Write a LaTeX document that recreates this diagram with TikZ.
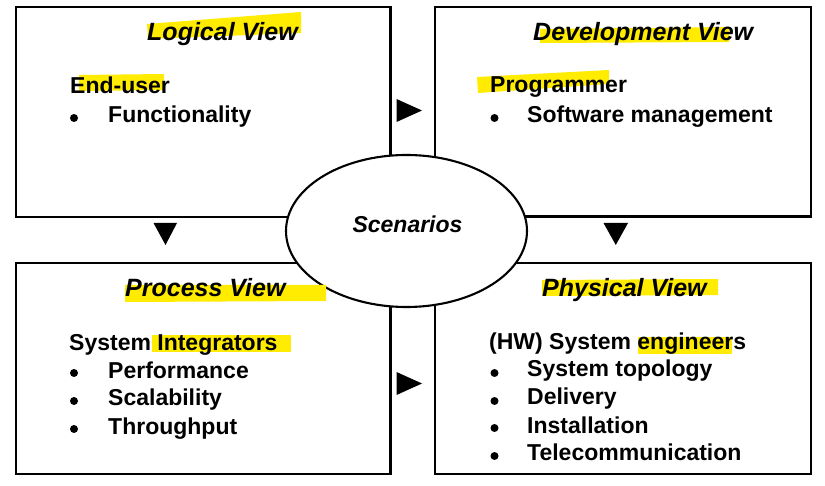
\documentclass[tikz,border=0pt]{standalone}
\usepackage{fontspec}
\setmainfont{Liberation Sans}
\usetikzlibrary{shapes.geometric}
\definecolor{marker}{RGB}{255,236,0}
\begin{document}
\begin{tikzpicture}[x=1pt,y=-1pt,
  viewbox/.style={draw, line width=2.3pt, inner sep=0pt, outer sep=0pt},
  title/.style={anchor=base west, inner sep=0pt, font=\fontsize{25}{28}\selectfont\bfseries\itshape},
  body/.style={anchor=base west, inner sep=0pt, font=\fontsize{23}{27}\selectfont\bfseries},
  dot/.style={circle, fill=black, minimum size=8pt, inner sep=0pt},
  hl/.style={fill=marker},
  tip/.style={fill=black}]
\useasboundingbox (0,0) rectangle (825,486);
\fill[white] (0,0) rectangle (825,486);

% the four view boxes
\node[viewbox, minimum width=374.5pt, minimum height=210pt]   (logical) at (203.25,112) {};
\node[viewbox, minimum width=376pt,   minimum height=209.5pt] (devel)   at (623,111.75) {};
\node[viewbox, minimum width=374.5pt, minimum height=211.3pt] (process) at (203.25,368.35) {};
\node[viewbox, minimum width=376pt,   minimum height=211pt]   (physical) at (623,368.5) {};

% scenarios in the middle
\node[ellipse, draw, fill=white, line width=2.1pt, minimum width=241pt, minimum height=152pt, inner sep=0pt] (scen) at (406.5,231) {};

% highlighter strokes
\fill[hl] (147,24) -- (301,12) -- (301,33) -- (148,39) -- cycle;
\fill[hl] (79,75) -- (164,74) -- (164,90) -- (79,91) -- cycle;
\fill[hl] (540,29) -- (729,27) -- (729,42) -- (540,43) -- cycle;
\fill[hl] (477,77) -- (609,70) -- (609,84) -- (478,93) -- cycle;
\fill[hl] (125,285) -- (326,285) -- (326,301) -- (125,302) -- cycle;
\fill[hl] (152,335) -- (291,335) -- (291,352) -- (152,352) -- cycle;
\fill[hl] (542,280) -- (718,279) -- (718,295) -- (542,296) -- cycle;
\fill[hl] (638,337) -- (732,337) -- (732,354) -- (638,354) -- cycle;

% logical view
\node[title] (lt) at (147,41) {Logical View};
\node[body] (lu) at (70,94) {End-user};
\node[dot] (ld1) at (74,118) {};
\node[body] (l1) at (108,123) {Functionality};

% development view
\node[title] (dt) at (533,41) {Development View};
\node[body] (du) at (490,93) {Programmer};
\node[dot] (dd1) at (494.5,118) {};
\node[body] (d1) at (527,123) {Software management};

% process view
\node[title] (pt) at (125,297) {Process View};
\node[body] (pu) at (69,351) {System Integrators};
\node[dot] (pd1) at (74,373) {};
\node[body] (p1) at (108,378) {Performance};
\node[dot] (pd2) at (74,401) {};
\node[body] (p2) at (108,406) {Scalability};
\node[dot] (pd3) at (74,429) {};
\node[body] (p3) at (108,434) {Throughput};

% physical view
\node[title] (yt) at (542,297) {Physical View};
\node[body] (yu) at (489,350) {(HW) System engineers};
\node[dot] (yd1) at (494.5,373) {};
\node[body] (y1) at (527,377) {System topology};
\node[dot] (yd2) at (494.5,401) {};
\node[body] (y2) at (527,405) {Delivery};
\node[dot] (yd3) at (494.5,428) {};
\node[body] (y3) at (527,433) {Installation};
\node[dot] (yd4) at (494.5,456) {};
\node[body] (y4) at (527,460) {Telecommunication};

% scenarios label
\node[anchor=base, inner sep=0pt, font=\fontsize{23}{27}\selectfont\bfseries\itshape] (st) at (407.5,233) {Scenarios};

% arrowheads between the views
\fill[tip] (396.5,99) -- (422,110.5) -- (396.5,122) -- cycle;
\fill[tip] (396.5,372) -- (422,383.5) -- (396.5,395) -- cycle;
\fill[tip] (153.5,223) -- (177,223) -- (165.5,245) -- cycle;
\fill[tip] (603.5,223) -- (628,223) -- (615.8,245) -- cycle;
\end{tikzpicture}
\end{document}
